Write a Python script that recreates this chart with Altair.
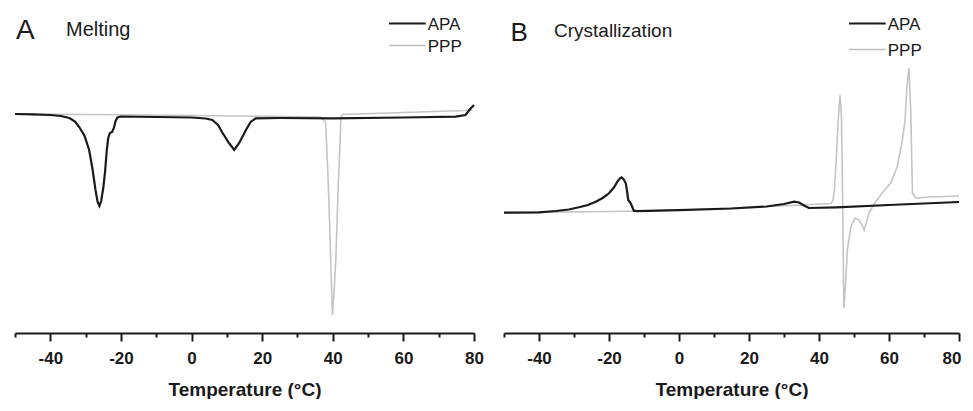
import altair as alt
import pandas as pd

FONT = "Liberation Sans"
BLACK = "#1a1a1a"
GRAY = "#c4c4c4"

# ---------------- Panel A: Melting ----------------
a_apa_t = [-50, -45, -40, -37, -34.6, -33, -31.8, -30.3, -29.0, -28.0, -27.2, -26.6, -26.1,
           -25.6, -25.0, -24.5, -24.0, -23.6, -23.1, -22.5, -22.0, -21.5, -21.0, -20.0, -10,
           0, 4, 5.9, 7.5, 8.8, 10.6, 12.1, 13.5, 15.4, 16.8, 18.2, 25, 40, 60, 74.8, 77.6,
           79.1, 80]
a_apa_hf = [21.9, 21.87, 21.8, 21.7, 21.5, 21.15, 20.6, 19.7, 18.3, 16.3, 14.3, 13.1, 12.7,
            13.2, 14.5, 16.1, 18.3, 19.5, 20.0, 20.1, 20.5, 21.2, 21.55, 21.65, 21.6,
            21.55, 21.45, 21.3, 20.8, 20.0, 19.0, 18.3, 19.0, 20.3, 21.13, 21.47, 21.5, 21.47,
            21.55, 21.63, 21.8, 22.47, 22.8]

a_ppp_t = [-50, -20, 0, 20, 36.5, 37.1, 38.0, 38.8, 39.4, 39.9, 40.4, 40.9, 41.5, 42.1, 42.3,
           42.7, 60, 77.7, 79.5]
a_ppp_hf = [21.9, 21.82, 21.75, 21.67, 21.6, 21.47, 21.0, 14.3, 7.63, 1.8, 4.3, 7.63, 14.3,
            19.3, 21.63, 21.85, 22.05, 22.25, 22.3]

# ---------------- Panel B: Crystallization ----------------
b_apa_t = [-50, -40, -35.2, -31.5, -28.6, -26, -23.8, -21.8, -20, -18.6, -17.6, -16.8, -16.4,
           -15.8, -15.2, -14.8, -14.5, -13.8, -12.9, -12.0, 0, 15, 25, 30, 32.9, 34.3, 35.7,
           37.1, 45, 60, 70, 80]
b_apa_hf = [12.03, 12.07, 12.2, 12.35, 12.57, 12.8, 13.13, 13.5, 13.97, 14.55, 15.13, 15.5,
            15.57, 15.35, 14.97, 14.1, 13.3, 12.97, 12.23, 12.18, 12.28, 12.45, 12.65, 12.9,
            13.13, 13.05, 12.75, 12.5, 12.57, 12.8, 12.95, 13.1]

b_ppp_t = [-50, -20, -10, 10, 25, 32, 38, 43.5, 44.0, 44.4, 44.9, 45.5, 46.0, 46.4, 46.6, 46.8,
           47.1, 47.6, 48.1, 49.1, 50.3, 51.4, 52.3, 52.9, 53.5, 54.3, 55.7, 58.0, 60.5, 62.3,
           63.7, 64.6, 65.1, 65.7, 66.2, 66.7, 67.6, 71.4, 80]
b_ppp_hf = [12.03, 12.15, 12.2, 12.4, 12.65, 12.75, 12.85, 12.95, 13.3, 14.3, 17.3, 21.3, 23.8,
            21.8, 17.3, 11.8, 2.5, 5.0, 8.3, 10.6, 11.5, 11.3, 10.8, 10.3, 11.0, 12.0, 12.9,
            14.0, 15.0, 16.6, 19.0, 21.3, 24.6, 26.5, 22.3, 14.0, 13.5, 13.6, 13.7]

series_names = ["APA", "PPP"]
tick_values = list(range(-50, 81, 10))
x_domain = [-50, 80]
y_domain = [0, 32.5]


def df(t, hf, name):
    return pd.DataFrame({"t": t, "hf": hf, "series": name})


def x_enc(flush):
    extra = {"labelFlush": True, "labelFlushOffset": 2} if flush else {"labelFlush": False}
    return alt.X(
        "t:Q",
        scale=alt.Scale(domain=x_domain, nice=False, zero=False),
        axis=alt.Axis(
            values=tick_values,
            labelExpr="datum.value % 20 === 0 ? '' + datum.value : ''",
            tickSize={"condition": {"test": "datum.value % 20 === 0", "value": 8}, "value": 4},
            title="Temperature (°C)",
            grid=False,
            domainColor=BLACK,
            domainWidth=2,
            tickColor=BLACK,
            tickWidth=2,
            labelFont=FONT,
            labelFontWeight="bold",
            labelFontSize=17,
            labelColor=BLACK,
            labelPadding=9,
            labelOverlap=False,
            titleFont=FONT,
            titleFontWeight="bold",
            titleFontSize=19,
            titleColor=BLACK,
            titlePadding=14,
            **extra,
        ),
    )


def y_enc():
    return alt.Y("hf:Q", scale=alt.Scale(domain=y_domain, nice=False, zero=False), axis=None)


def text(s, x, y, size, color=BLACK):
    return alt.Chart(pd.DataFrame({"s": [s]})).mark_text(
        align="left", baseline="alphabetic", font=FONT, fontSize=size, color=color
    ).encode(text="s:N", x=alt.value(x), y=alt.value(y))


def rule(x1, x2, y, color, w):
    return alt.Chart(pd.DataFrame({"s": [0]})).mark_rule(color=color, strokeWidth=w).encode(
        x=alt.value(x1), x2=alt.value(x2), y=alt.value(y)
    )


def panel(apa, ppp, letter, letter_xy, letter_size, name, name_xy, name_size, leg, width, flush):
    gray = alt.Chart(ppp).mark_line(color=GRAY, strokeWidth=1.6).encode(x=x_enc(flush), y=y_enc())
    black = alt.Chart(apa).mark_line(color=BLACK, strokeWidth=2.2).encode(x=x_enc(flush), y=y_enc())
    lx1, lx2, ly1, ly2 = leg
    layers = [
        gray,
        black,
        text(letter, letter_xy[0], letter_xy[1], letter_size),
        text(name, name_xy[0], name_xy[1], name_size),
        rule(lx1, lx2, ly1, BLACK, 2.2),
        rule(lx1, lx2, ly2, "#bdbdbd", 1.3),
        text(series_names[0], lx2 + 2, ly1 + 6, 17),
        text(series_names[1], lx2 + 2, ly2 + 6, 17),
    ]
    return alt.layer(*layers).properties(width=width, height=325)


panel_a = panel(df(a_apa_t, a_apa_hf, "APA"), df(a_ppp_t, a_ppp_hf, "PPP"),
                "A", (1, 31), 28, "Melting", (51, 27.5), 20,
                (374, 410.7, 15.5, 37.5), 459, False)
panel_b = panel(df(b_apa_t, b_apa_hf, "APA"), df(b_ppp_t, b_ppp_hf, "PPP"),
                "B", (6.5, 32.5), 26, "Crystallization", (50, 28.5), 19,
                (345, 381.7, 15.5, 41.5), 455, True)

chart = alt.hconcat(panel_a, panel_b, spacing=30, bounds="flush").properties(
    padding={"left": 2, "top": 0, "right": 0, "bottom": 0}
).configure_view(stroke=None)

chart.save("out.html", embed_options={"renderer": "svg", "actions": False})
